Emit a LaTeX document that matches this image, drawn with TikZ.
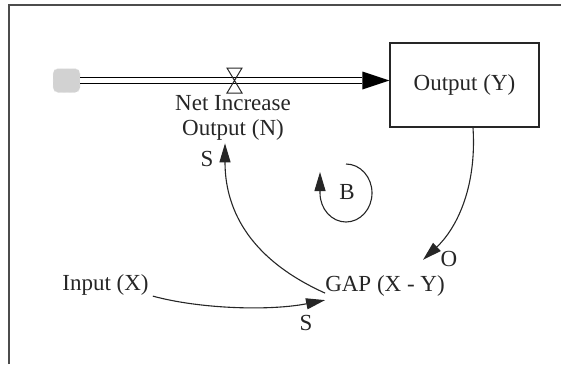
\documentclass[tikz,border=0pt]{standalone}
\usepackage{fontspec}
\setmainfont{Liberation Serif}
\usetikzlibrary{arrows.meta,calc}
\begin{document}
\begin{tikzpicture}[x=1pt,y=-1pt,
  lbl/.style={inner sep=0pt, font=\fontsize{23}{25}\selectfont, text=black!85},
  link/.style={line width=1.1pt, draw=black!85, -{Triangle[length=19pt,width=11pt]}},
  pipe/.style={line width=1.3pt, double, double distance=4.3pt},
  stockbox/.style={lbl, draw=black!85, line width=1.3pt, minimum width=149pt, minimum height=84pt},
  cloudbox/.style={fill=gray!35, draw=gray!15, dashed, rounded corners=5pt, minimum width=27pt, minimum height=24pt, inner sep=0pt}]
\useasboundingbox (0,0) rectangle (561,364);
% frame
\draw[gray!60!black, line width=1.3pt] (9,364) -- (9,5) -- (561,5);
% stock and source
\node[stockbox] (stock) at (464.5,85) {Output (Y)};
\node[cloudbox] (cloud) at (66.5,80.5) {};
% pipe
\coordinate (pipeend) at ($(stock.west)+(-27,-4.5)$);
\draw[pipe] (cloud.east) -- (pipeend);
\fill[black] ($(pipeend)+(0,-9)$) -- ($(stock.west)+(0,-4.5)$) -- ($(pipeend)+(0,9)$) -- cycle;
% valve
\coordinate (valve) at (234.5,80.5);
\draw[line width=1pt, draw=black!85] ($(valve)+(-7.5,-12.5)$) -- ++(15,0) -- ($(valve)+(-7.5,12.5)$) -- ++(15,0) -- cycle;
% labels
\node[lbl, align=center, anchor=north] (net) at (233,95) {Net Increase\\Output (N)};
\node[lbl, anchor=base] (gap) at (385,291) {GAP (X - Y)};
\node[lbl, anchor=base] (input) at (105.5,290) {Input (X)};
\node[lbl, anchor=base] (sA) at (207,166.5) {S};
\node[lbl, anchor=base] (sB) at (306,330) {S};
\node[lbl, anchor=base] (oA) at (449,266) {O};
\node[lbl, anchor=base] (B) at (347,199) {B};
% links
\draw[link] ($(stock.south)+(8.5,0)$) .. controls (477,190) and (455,230) .. ($(gap.north)+(38,-15)$);
\draw[link] ($(gap.south west)+(0,-3)$) .. controls (245,257) and (225,205) .. ($(net.south)+(-8,3)$);
\draw[link] ($(input.south east)+(4,1)$) .. controls (200,309) and (270,311) .. ($(gap.south west)+(0,4)$);
% loop marker
\coordinate (loopc) at (346,193);
\draw[link] ($(loopc)+(0,-29)$) arc[start angle=-90, end angle=180, x radius=26, y radius=29] -- ++(0,-21);
\end{tikzpicture}
\end{document}
